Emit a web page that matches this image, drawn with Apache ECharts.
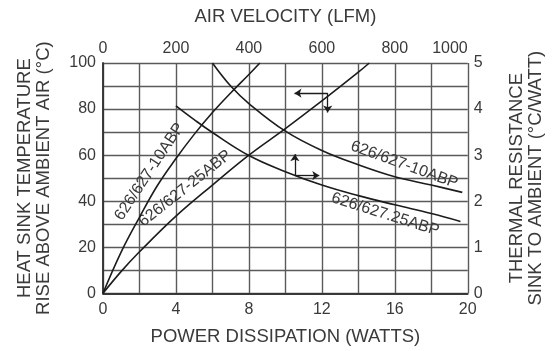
<!DOCTYPE html>
<html><head><meta charset="utf-8">
<script src="https://cdn.jsdelivr.net/npm/echarts@6/dist/echarts.min.js"></script>
<style>html,body{margin:0;padding:0;background:#fff}#c{width:553px;height:351px}</style>
</head><body><div id="c"></div>
<script>
// Temperature rise (left axis, °C) vs power dissipation (bottom axis, W)
const temp10Power = [0, 1, 2, 3, 4, 5, 6, 7, 8, 8.6];
const temp10Rise  = [0, 18, 33, 47, 58.5, 69, 78.5, 87, 95, 100];
const temp25Power = [0, 1, 2, 4, 6, 8, 10, 12, 14, 14.6];
const temp25Rise  = [0, 9.5, 18, 33.5, 47, 60, 71.5, 83.5, 96, 100];
// Thermal resistance (right axis, °C/W) vs air velocity (top axis, LFM)
const res10Velocity = [300, 350, 400, 500, 600, 700, 800, 900, 985];
const res10Value    = [5.0, 4.5, 4.12, 3.52, 3.1, 2.79, 2.53, 2.35, 2.19];
const res25Velocity = [200, 250, 300, 400, 500, 600, 700, 800, 900, 980];
const res25Value    = [4.07, 3.77, 3.49, 2.99, 2.64, 2.35, 2.12, 1.92, 1.73, 1.56];
// Curve labels: [text, x, y, angle]
const labelTemp10 = ['626/627-10ABP', 2.55, 52.8, 56.5];
const labelTemp25 = ['626/627-25ABP', 4.5, 45.5, 38.5];
const labelRes10  = ['626/627-10ABP', 826, 2.79, -19.9];
const labelRes25  = ['626/627.25ABP', 774, 1.71, -17.5];
// Axis-indicating arrows: [x0, y0, x1, y1]
const arrowTempLeft = [12.32, 86.9, 10.5, 86.9];
const arrowTempDown = [12.32, 86.9, 12.32, 78.5];
const arrowResUp    = [526, 2.555, 526, 3.02];
const arrowResRight = [526, 2.555, 593, 2.555];

const zip = (a, b) => a.map((v, i) => [v, b[i]]);
const TXT = '#3a3a3a', LINE = '#1c1c1c', GRIDC = '#5a5a5a';
const FF = 'Liberation Sans, Arial, sans-serif';
const tickFont = {fontSize: 16, color: TXT, fontFamily: FF, formatter: v => String(v)};
const nameFont = {fontSize: 18.5, color: TXT, lineHeight: 18.5, fontFamily: FF};
const splitStyle = {color: GRIDC, width: 1.4};

function mp(l) {
  return {
    symbol: 'circle', symbolSize: 1, itemStyle: {color: 'rgba(0,0,0,0)'},
    data: [{coord: [l[1], l[2]], value: l[0],
      label: {show: true, position: 'inside', rotate: l[3], formatter: l[0],
              fontSize: 16, color: TXT, fontFamily: FF}}]
  };
}
function ml(arrs) {
  return {
    silent: true, symbol: ['none', 'arrow'], symbolSize: 7,
    label: {show: false}, lineStyle: {color: LINE, width: 1.3, type: 'solid'},
    emphasis: {disabled: true},
    data: arrs.map(a => [{coord: [a[0], a[1]]}, {coord: [a[2], a[3]]}])
  };
}
const lineSeries = (data, xi, yi, extra) => Object.assign({
  type: 'line', xAxisIndex: xi, yAxisIndex: yi, data: data, smooth: 0.4,
  showSymbol: false, lineStyle: {color: LINE, width: 1.6}, z: 5
}, extra);

const chart = echarts.init(document.getElementById('c'), null, {renderer: 'canvas'});
chart.setOption({
  animation: false,
  grid: {left: 103, right: 81, top: 63, bottom: 55},
  xAxis: [{
    type: 'value', position: 'bottom', min: 0, max: 20, interval: 4,
    axisLine: {show: true, lineStyle: {color: '#333', width: 1.5}},
    axisTick: {show: false},
    axisLabel: Object.assign({margin: 8}, tickFont),
    splitLine: {show: true, lineStyle: splitStyle},
    minorTick: {show: false, splitNumber: 2},
    minorSplitLine: {show: true, lineStyle: splitStyle},
    name: 'POWER DISSIPATION (WATTS)', nameLocation: 'middle', nameGap: 34,
    nameTextStyle: nameFont
  }, {
    type: 'value', position: 'top', min: 0, max: 1000, interval: 200,
    axisLine: {show: true, lineStyle: {color: '#333', width: 1.5}},
    axisTick: {show: false},
    axisLabel: Object.assign({margin: 6, alignMaxLabel: 'right'}, tickFont),
    splitLine: {show: false},
    name: 'AIR VELOCITY (LFM)', nameLocation: 'middle', nameGap: 37,
    nameTextStyle: nameFont
  }],
  yAxis: [{
    type: 'value', position: 'left', min: 0, max: 100, interval: 20,
    axisLine: {show: true, lineStyle: {color: '#333', width: 1.5}},
    axisTick: {show: false},
    axisLabel: Object.assign({margin: 7}, tickFont),
    splitLine: {show: true, lineStyle: splitStyle},
    minorTick: {show: false, splitNumber: 2},
    minorSplitLine: {show: true, lineStyle: splitStyle},
    name: 'HEAT SINK TEMPERATURE\nRISE ABOVE AMBIENT AIR (°C)', nameLocation: 'middle', nameGap: 50,
    nameTextStyle: nameFont
  }, {
    type: 'value', position: 'right', min: 0, max: 5, interval: 1,
    axisLine: {show: true, lineStyle: {color: '#333', width: 1.5}},
    axisTick: {show: false},
    axisLabel: Object.assign({margin: 6}, tickFont),
    splitLine: {show: false},
    name: 'THERMAL RESISTANCE\nSINK TO AMBIENT (°C/WATT)', nameLocation: 'middle', nameGap: 40,
    nameTextStyle: nameFont
  }],
  series: [
    lineSeries(zip(temp10Power, temp10Rise), 0, 0, {markPoint: mp(labelTemp10)}),
    lineSeries(zip(temp25Power, temp25Rise), 0, 0, {markPoint: mp(labelTemp25), markLine: ml([arrowTempLeft, arrowTempDown])}),
    lineSeries(zip(res10Velocity, res10Value), 1, 1, {markPoint: mp(labelRes10)}),
    lineSeries(zip(res25Velocity, res25Value), 1, 1, {markPoint: mp(labelRes25), markLine: ml([arrowResUp, arrowResRight])})
  ]
});
</script></body></html>
